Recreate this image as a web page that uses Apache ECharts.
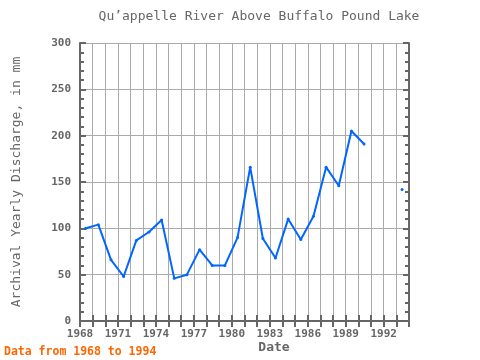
<!DOCTYPE html>
<html><head><meta charset="utf-8">
<script src="https://cdn.jsdelivr.net/npm/echarts@6/dist/echarts.min.js"></script>
<style>html,body{margin:0;padding:0;background:#fff}#c{width:480px;height:360px}</style>
</head><body><div id="c"></div>
<script>
var years = [1968,1969,1970,1971,1972,1973,1974,1975,1976,1977,1978,1979,1980,1981,1982,1983,1984,1985,1986,1987,1988,1989,1990,1991,1992,1993];
var discharge = [100,104,66,48,87,96,109,46,50,77,60,60,90,166,89,68,110,88,113,166,146,205,191,null,null,142];
var xTickLabels = [1968,1971,1974,1977,1980,1983,1986,1989,1992];
var titleText = 'Qu\u2019appelle River Above Buffalo Pound Lake';
var yName = 'Archival Yearly Discharge, in mm';
var xName = 'Date';
var footer = 'Data from 1968 to 1994';

var font = '"DejaVu Sans Mono", monospace';
var gray = '#666';
var data = years.map(function(y,i){ return [y + 0.45, discharge[i]]; });

var chart = echarts.init(document.getElementById('c'), null, {renderer:'canvas'});
chart.setOption({
  animation:false,
  backgroundColor:'#fff',
  grid:{left:80,right:71,top:43,bottom:39,containLabel:false},
  xAxis:[{
    type:'value',min:1968,max:1994,interval:1,position:'bottom',
    axisLine:{show:true,lineStyle:{color:gray,width:2}},
    axisTick:{show:true,inside:true,length:6,lineStyle:{color:gray,width:2}},
    splitLine:{show:true,lineStyle:{color:'#aaa',width:1}},
    axisLabel:{color:gray,fontFamily:font,fontSize:11,fontWeight:'bold',margin:8,
      formatter:function(v){ return xTickLabels.indexOf(v)>=0 ? String(v) : ''; }}
  },{
    type:'value',min:1968,max:1994,interval:1,position:'top',
    axisLine:{show:true,lineStyle:{color:gray,width:2}},
    axisTick:{show:true,inside:true,length:6,lineStyle:{color:gray,width:2}},
    splitLine:{show:false},axisLabel:{show:false}
  }],
  yAxis:[{
    type:'value',min:0,max:300,interval:50,position:'left',
    axisLine:{show:true,lineStyle:{color:gray,width:2}},
    axisTick:{show:true,inside:true,length:6,lineStyle:{color:gray,width:2}},
    minorTick:{show:true,splitNumber:5,length:4,lineStyle:{color:gray,width:2}},
    splitLine:{show:true,lineStyle:{color:'#aaa',width:1}},
    axisLabel:{color:gray,fontFamily:font,fontSize:11,fontWeight:'bold',margin:9}
  },{
    type:'value',min:0,max:300,interval:50,position:'right',
    axisLine:{show:true,lineStyle:{color:gray,width:2}},
    axisTick:{show:true,inside:true,length:6,lineStyle:{color:gray,width:2}},
    minorTick:{show:true,splitNumber:5,length:4,lineStyle:{color:gray,width:2}},
    splitLine:{show:false},axisLabel:{show:false}
  }],
  series:[{
    type:'line',data:data,xAxisIndex:0,yAxisIndex:0,
    connectNulls:false,showSymbol:true,symbol:'circle',symbolSize:3,
    lineStyle:{color:'#0066ff',width:2},itemStyle:{color:'#0066ff'}
  }],
  graphic:[
    {type:'text',x:259,y:17,style:{text:titleText,fill:gray,font:'13px '+font,textAlign:'center',textVerticalAlign:'middle'}},
    {type:'text',x:17,y:182,rotation:Math.PI/2,style:{text:yName,fill:gray,font:'13px '+font,textAlign:'center',textVerticalAlign:'middle'}},
    {type:'text',x:274,y:348,style:{text:xName,fill:gray,font:'bold 13px '+font,textAlign:'center',textVerticalAlign:'middle'}},
    {type:'text',x:4,y:352,style:{text:footer,fill:'#ff6600',font:'bold 11.5px '+font,textAlign:'left',textVerticalAlign:'middle'}}
  ]
});
</script></body></html>
